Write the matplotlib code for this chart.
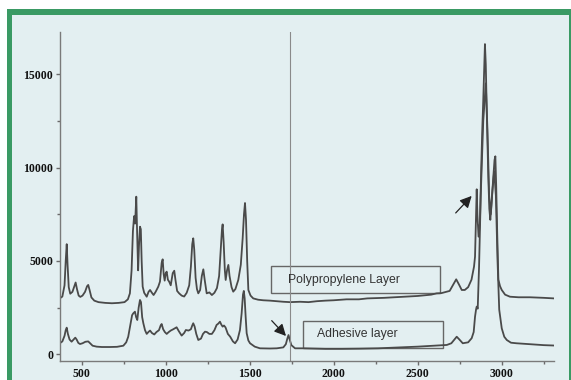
import matplotlib
matplotlib.use("Agg")
import matplotlib.pyplot as plt
from matplotlib.patches import Rectangle
from matplotlib.ticker import MultipleLocator

# ---- data ----
pp_wavenumber = [370, 385, 398, 405, 411, 416, 423, 432, 445, 456, 464, 472, 482, 492, 505, 520, 532, 539, 547,
                 558, 575, 600, 640, 680, 720, 755, 775, 787, 797, 805, 812, 818, 825, 830, 836, 841, 847, 852,
                 857, 863, 872, 887, 898, 907, 918, 928, 940, 956, 966, 976, 982, 988, 994, 1000, 1006, 1013,
                 1021, 1030, 1042, 1051, 1058, 1068, 1080, 1095, 1110, 1125, 1140, 1150, 1158, 1164, 1170, 1178,
                 1186, 1194, 1205, 1215, 1224, 1232, 1244, 1260, 1275, 1290, 1305, 1318, 1328, 1335, 1339, 1345,
                 1352, 1357, 1365, 1373, 1380, 1392, 1402, 1415, 1432, 1447, 1458, 1466, 1472, 1478, 1485, 1492,
                 1505, 1521, 1550, 1580, 1621, 1660, 1700, 1740, 1800, 1850, 1900, 1950, 2000, 2076, 2150, 2200,
                 2300, 2400, 2500, 2580, 2613, 2640, 2690, 2712, 2729, 2745, 2762, 2780, 2800, 2820, 2835, 2841,
                 2846, 2851, 2855, 2862, 2870, 2878, 2884, 2890, 2896, 2900, 2905, 2912, 2920, 2926, 2932, 2940,
                 2950, 2957, 2962, 2967, 2973, 2980, 2990, 3000, 3020, 3049, 3100, 3168, 3250, 3310]
pp_intensity = [3000, 3100, 3700, 5000, 5900, 4800, 3600, 3250, 3350, 3650, 3850, 3500, 3150, 3080, 3150, 3350,
                3650, 3720, 3450, 3050, 2880, 2800, 2760, 2740, 2760, 2800, 2950, 3270, 4500, 6600, 7400, 7000,
                8440, 6500, 4500, 5800, 6835, 6700, 5000, 3630, 3300, 3090, 3350, 3450, 3300, 3180, 3350, 3630,
                3900, 4900, 5090, 4300, 3950, 4350, 4430, 4000, 3890, 3700, 4350, 4480, 4000, 3400, 3270, 3150,
                3100, 3300, 3700, 4700, 5900, 6214, 5600, 4100, 3500, 3270, 3450, 4200, 4555, 4000, 3270, 3320,
                3180, 3300, 3550, 4200, 5700, 6700, 6960, 6000, 4500, 3985, 4500, 4790, 4200, 3600, 3360, 3500,
                3985, 4800, 6200, 7500, 8100, 7200, 5000, 3450, 3150, 3000, 2930, 2900, 2880, 2850, 2820, 2800,
                2820, 2800, 2850, 2880, 2900, 2950, 2950, 3000, 3030, 3080, 3130, 3200, 3270, 3280, 3400, 3750,
                4020, 3750, 3450, 3450, 3600, 4000, 4700, 5230, 7000, 8835, 7500, 6300, 7000, 10000, 12000,
                13600, 15500, 16600, 15500, 12500, 9500, 7800, 7200, 8200, 9500, 10400, 10600, 9000, 6500, 4000,
                3650, 3450, 3200, 3090, 3060, 3060, 3030, 3000]

adh_wavenumber = [370, 385, 398, 405, 411, 418, 428, 440, 452, 462, 470, 480, 490, 505, 522, 539, 550, 565, 589,
                  620, 668, 710, 748, 765, 777, 790, 800, 807, 817, 824, 831, 839, 847, 853, 860, 867, 877, 887,
                  897, 907, 918, 932, 945, 960, 970, 976, 985, 995, 1006, 1018, 1030, 1045, 1065, 1078, 1095,
                  1110, 1120, 1136, 1150, 1158, 1164, 1172, 1182, 1194, 1210, 1222, 1234, 1245, 1260, 1275, 1290,
                  1303, 1313, 1323, 1331, 1339, 1347, 1356, 1370, 1384, 1400, 1413, 1428, 1442, 1452, 1460, 1465,
                  1470, 1476, 1482, 1492, 1502, 1530, 1561, 1620, 1661, 1700, 1715, 1724, 1731, 1738, 1748, 1770,
                  1820, 1866, 1950, 2050, 2150, 2264, 2400, 2500, 2600, 2673, 2700, 2718, 2732, 2748, 2768, 2800,
                  2821, 2833, 2841, 2847, 2851, 2857, 2865, 2875, 2890, 2905, 2915, 2925, 2935, 2945, 2955, 2965,
                  2975, 2985, 3000, 3015, 3030, 3055, 3088, 3150, 3250, 3310]
adh_intensity = [600, 700, 1000, 1300, 1435, 1100, 800, 685, 800, 900, 800, 620, 560, 600, 680, 700, 600, 470,
                 420, 400, 400, 410, 470, 650, 950, 1600, 2100, 2200, 2290, 2000, 1845, 2500, 2915, 2800, 2000,
                 1670, 1300, 1100, 1200, 1280, 1150, 1070, 1200, 1300, 1550, 1630, 1350, 1200, 1100, 1200, 1280,
                 1350, 1455, 1250, 1010, 1150, 1310, 1280, 1350, 1550, 1670, 1500, 1100, 775, 850, 1100, 1220,
                 1200, 1100, 1100, 1300, 1580, 1650, 1755, 1600, 1490, 1550, 1450, 1100, 950, 700, 600, 800, 1310,
                 2200, 3200, 3400, 3000, 2000, 1135, 750, 600, 420, 330, 320, 330, 380, 550, 850, 1040, 800, 500,
                 330, 330, 320, 300, 300, 310, 330, 380, 420, 470, 510, 600, 800, 950, 800, 600, 650, 870, 1200,
                 2020, 2400, 2560, 2450, 4700, 8500, 12500, 14500, 12000, 8500, 7500, 8800, 9800, 8500, 5000,
                 2400, 1400, 950, 775, 630, 600, 560, 500, 480]

x_ticks = [500, 1000, 1500, 2000, 2500, 3000]
y_ticks = [0, 5000, 10000, 15000]
marker_line_x = 1740
label_pp = "Polypropylene Layer"
label_adh = "Adhesive layer"
arrow_pp = ((2726, 7570), (2821, 8480))     # (tail, head)
arrow_adh = ((1631, 1810), (1716, 990))

# ---- figure ----
W, H = 571, 380
fig = plt.figure(figsize=(W / 100, H / 100), dpi=100)
fig.patch.set_facecolor("white")

green = "#3a9a64"
bg = "#e3eff1"
fig.patches.append(Rectangle((7 / W, -0.05), (580 - 7) / W, (H - 9) / H + 0.05,
                             transform=fig.transFigure, facecolor=green, edgecolor="none", zorder=-10))
fig.patches.append(Rectangle((12 / W, -0.05), (569 - 12) / W, (H - 15) / H + 0.05,
                             transform=fig.transFigure, facecolor=bg, edgecolor="none", zorder=-9))

ax = fig.add_axes([60 / W, (H - 360.7) / H, (554 - 60) / W, (360.7 - 32) / H])
ax.set_facecolor("none")

line_col = "#4a4a4a"
ax.plot(pp_wavenumber, pp_intensity, color=line_col, lw=1.3)
ax.plot(adh_wavenumber, adh_intensity, color=line_col, lw=1.3)
ax.axvline(marker_line_x, color="#8a8a8a", lw=0.8)

ax.set_xlim(371, 3311)
ax.set_ylim(-332, 17247)

for s in ["top", "right"]:
    ax.spines[s].set_visible(False)
for s in ["left", "bottom"]:
    ax.spines[s].set_color("#7a7a7a")
    ax.spines[s].set_linewidth(1.0)

ax.set_xticks(x_ticks)
ax.set_yticks(y_ticks)
ax.xaxis.set_minor_locator(MultipleLocator(250))
ax.yaxis.set_minor_locator(MultipleLocator(2500))
ax.tick_params(which="both", direction="out", color="#6a6a6a", width=1)
ax.tick_params(which="major", length=3, pad=2)
ax.tick_params(which="minor", length=2)
for lab in ax.get_xticklabels() + ax.get_yticklabels():
    lab.set_fontfamily("Liberation Serif")
    lab.set_fontweight("bold")
    lab.set_fontsize(8.5)
    lab.set_color("#111111")

# text boxes
for (x0, y0, x1, y1) in [(0.427, 0.205, 0.769, 0.288), (0.4925, 0.0395, 0.7747, 0.1208)]:
    ax.add_patch(Rectangle((x0, y0), x1 - x0, y1 - y0, transform=ax.transAxes,
                           facecolor="none", edgecolor="#666666", lw=1.0))
ax.text(0.462, 0.2467, label_pp, transform=ax.transAxes, ha="left", va="center",
        fontsize=8.8, family="Liberation Sans", color="#333333")
ax.text(0.5196, 0.0803, label_adh, transform=ax.transAxes, ha="left", va="center",
        fontsize=8.8, family="Liberation Sans", color="#333333")

# arrows
for tail, head in [arrow_pp, arrow_adh]:
    ax.annotate("", xy=head, xytext=tail,
                arrowprops=dict(arrowstyle="-|>,head_length=0.7,head_width=0.35",
                                color="#222222", lw=0.9, shrinkA=0, shrinkB=0))

fig.savefig("out.png", dpi=100, facecolor=fig.get_facecolor())
